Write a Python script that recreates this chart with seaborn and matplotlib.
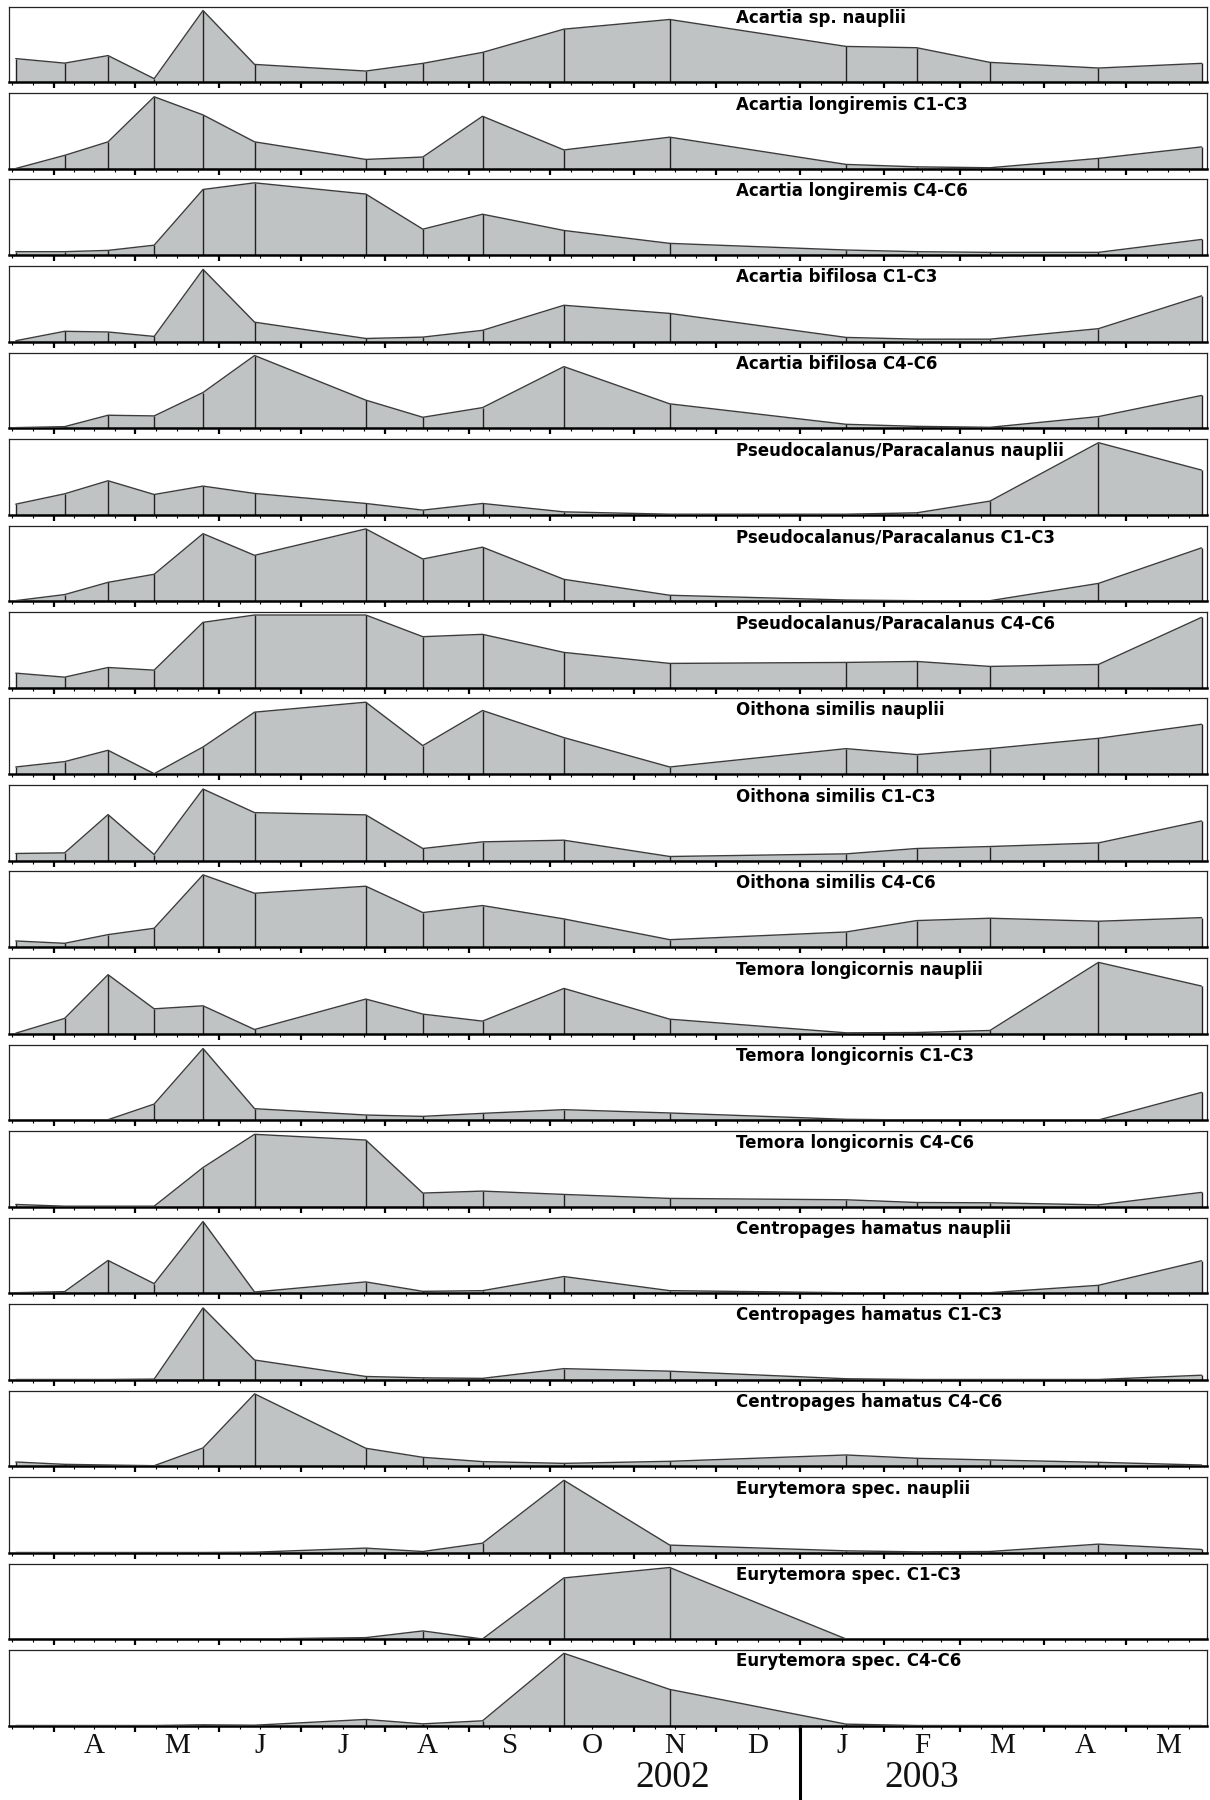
import numpy as np
import pandas as pd
import seaborn as sns
import matplotlib.pyplot as plt
import matplotlib.dates as mdates
from matplotlib.lines import Line2D
from matplotlib.transforms import blended_transform_factory

# sampling dates (Mar 2002 - May 2003)
sample_dates = pd.to_datetime([
    "2002-03-18", "2002-04-05", "2002-04-21", "2002-05-08", "2002-05-26",
    "2002-06-14", "2002-07-25", "2002-08-15", "2002-09-06", "2002-10-06",
    "2002-11-14", "2003-01-18", "2003-02-13", "2003-03-12", "2003-04-21",
    "2003-05-29",
])

# relative abundance per panel (fraction of panel height)
acartia_sp_nauplii = [0.31, 0.25, 0.35, 0.044, 0.947, 0.233, 0.145, 0.247, 0.392, 0.70, 0.828, 0.471, 0.454, 0.26, 0.185, 0.247]
acartia_long_c1c3 = [0.0, 0.174, 0.353, 0.95, 0.71, 0.353, 0.12, 0.152, 0.692, 0.246, 0.415, 0.054, 0.022, 0.01, 0.134, 0.286]
acartia_long_c4c6 = [0.044, 0.044, 0.061, 0.13, 0.868, 0.956, 0.807, 0.342, 0.54, 0.325, 0.154, 0.066, 0.044, 0.035, 0.035, 0.206]
acartia_bif_c1c3 = [0.01, 0.135, 0.126, 0.067, 0.955, 0.256, 0.04, 0.058, 0.148, 0.48, 0.372, 0.054, 0.031, 0.031, 0.17, 0.605]
acartia_bif_c4c6 = [0.005, 0.018, 0.169, 0.16, 0.47, 0.96, 0.369, 0.142, 0.27, 0.813, 0.32, 0.049, 0.022, 0.009, 0.151, 0.431]
pseudo_nauplii = [0.137, 0.274, 0.447, 0.265, 0.376, 0.279, 0.146, 0.058, 0.146, 0.035, 0.004, 0.004, 0.022, 0.177, 0.951, 0.588]
pseudo_c1c3 = [0.005, 0.085, 0.247, 0.354, 0.892, 0.605, 0.955, 0.556, 0.713, 0.287, 0.076, 0.013, 0.004, 0.004, 0.233, 0.704]
pseudo_c4c6 = [0.19, 0.137, 0.265, 0.23, 0.863, 0.96, 0.96, 0.673, 0.704, 0.465, 0.319, 0.332, 0.345, 0.279, 0.305, 0.929]
oithona_nauplii = [0.093, 0.164, 0.314, 0.004, 0.358, 0.819, 0.951, 0.376, 0.841, 0.482, 0.093, 0.336, 0.257, 0.336, 0.473, 0.659]
oithona_c1c3 = [0.093, 0.101, 0.608, 0.079, 0.947, 0.634, 0.604, 0.159, 0.247, 0.269, 0.053, 0.088, 0.159, 0.185, 0.233, 0.524]
oithona_c4c6 = [0.08, 0.049, 0.164, 0.248, 0.956, 0.712, 0.805, 0.456, 0.549, 0.372, 0.097, 0.199, 0.35, 0.381, 0.341, 0.389]
temora_nauplii = [0.004, 0.2, 0.779, 0.327, 0.367, 0.053, 0.456, 0.257, 0.164, 0.597, 0.19, 0.009, 0.013, 0.04, 0.942, 0.628]
temora_c1c3 = [0.0, 0.0, 0.004, 0.211, 0.947, 0.15, 0.066, 0.048, 0.088, 0.137, 0.093, 0.009, 0.0, 0.0, 0.0, 0.366]
temora_c4c6 = [0.027, 0.004, 0.004, 0.004, 0.516, 0.956, 0.88, 0.178, 0.204, 0.16, 0.107, 0.089, 0.053, 0.049, 0.022, 0.187]
centro_nauplii = [0.004, 0.018, 0.431, 0.124, 0.947, 0.013, 0.147, 0.022, 0.031, 0.218, 0.031, 0.004, 0.0, 0.004, 0.102, 0.427]
centro_c1c3 = [0.0, 0.0, 0.0, 0.005, 0.948, 0.258, 0.04, 0.022, 0.015, 0.144, 0.11, 0.01, 0.0, 0.0, 0.0, 0.057]
centro_c4c6 = [0.053, 0.022, 0.013, 0.004, 0.239, 0.956, 0.235, 0.115, 0.058, 0.035, 0.062, 0.146, 0.102, 0.08, 0.049, 0.013]
eury_nauplii = [0.0, 0.0, 0.0, 0.0, 0.0, 0.004, 0.058, 0.013, 0.124, 0.956, 0.098, 0.022, 0.009, 0.013, 0.111, 0.04]
eury_c1c3 = [0.0, 0.0, 0.0, 0.0, 0.0, 0.0, 0.018, 0.107, 0.0, 0.809, 0.947, 0.0, 0.0, 0.0, 0.0, 0.0]
eury_c4c6 = [0.0, 0.0, 0.0, 0.0, 0.009, 0.004, 0.08, 0.022, 0.062, 0.956, 0.478, 0.018, 0.0, 0.0, 0.0, 0.0]

panel_titles = [
    "Acartia sp. nauplii", "Acartia longiremis C1-C3", "Acartia longiremis C4-C6",
    "Acartia bifilosa C1-C3", "Acartia bifilosa C4-C6", "Pseudocalanus/Paracalanus nauplii",
    "Pseudocalanus/Paracalanus C1-C3", "Pseudocalanus/Paracalanus C4-C6", "Oithona similis nauplii",
    "Oithona similis C1-C3", "Oithona similis C4-C6", "Temora longicornis nauplii",
    "Temora longicornis C1-C3", "Temora longicornis C4-C6", "Centropages hamatus nauplii",
    "Centropages hamatus C1-C3", "Centropages hamatus C4-C6", "Eurytemora spec. nauplii",
    "Eurytemora spec. C1-C3", "Eurytemora spec. C4-C6",
]
panel_values = [
    acartia_sp_nauplii, acartia_long_c1c3, acartia_long_c4c6, acartia_bif_c1c3, acartia_bif_c4c6,
    pseudo_nauplii, pseudo_c1c3, pseudo_c4c6, oithona_nauplii, oithona_c1c3, oithona_c4c6,
    temora_nauplii, temora_c1c3, temora_c4c6, centro_nauplii, centro_c1c3, centro_c4c6,
    eury_nauplii, eury_c1c3, eury_c4c6,
]

month_letters = ["A", "M", "J", "J", "A", "S", "O", "N", "D", "J", "F", "M", "A", "M"]
year_labels = ["2002", "2003"]
year_centers = pd.to_datetime(["2002-11-15", "2003-02-15"])

sns.set_style("white")
plt.rcParams['font.family'] = ['DejaVu Sans']

W, H = 1210, 1800
fig = plt.figure(figsize=(W / 100, H / 100), dpi=100)
x0, x1 = 9, 1207
top0, pitch, ph = 6.5, 86.5, 75.5

xmin = pd.Timestamp("2002-03-15 12:00")
xmax = pd.Timestamp("2003-05-31")

month_starts = pd.date_range("2002-03-01", "2003-06-01", freq="MS")
major = [m for m in month_starts if xmin <= m <= xmax]
minor = []
for a, b in zip(month_starts[:-1], month_starts[1:]):
    for k in (1, 2, 3):
        t = a + (b - a) * k / 4
        if xmin <= t <= xmax:
            minor.append(t)

fill_col = "#c0c3c3"
axes = []
for i, (title, vals) in enumerate(zip(panel_titles, panel_values)):
    top = top0 + pitch * i
    ax = fig.add_axes([x0 / W, 1 - (top + ph) / H, (x1 - x0) / W, ph / H])
    df = pd.DataFrame({"date": sample_dates, "value": vals})
    ax.fill_between(df["date"], 0, df["value"], color=fill_col, lw=0, zorder=1)
    sns.lineplot(data=df, x="date", y="value", ax=ax, color="#3c3c3c", lw=1.0,
                 legend=False, zorder=3)
    ax.vlines(df["date"], 0, df["value"], color="#222222", lw=1.0, zorder=2)
    ax.set_xlim(xmin, xmax)
    ax.set_ylim(0, 1)
    ax.set_xlabel("")
    ax.set_ylabel("")
    ax.set_yticks([])
    ax.set_xticks(major)
    ax.set_xticks(minor, minor=True)
    ax.tick_params(axis="x", which="major", direction="out", length=4, width=1.6,
                   color="black", labelbottom=False, bottom=True)
    ax.tick_params(axis="x", which="minor", direction="out", length=2.2, width=0.8,
                   color="black", bottom=True)
    for s in ["top", "left", "right"]:
        ax.spines[s].set_color("#222222")
        ax.spines[s].set_linewidth(0.9)
    ax.spines["bottom"].set_color("black")
    ax.spines["bottom"].set_linewidth(1.8)
    ax.text(0.607, 1 - 2.5 / ph, title, transform=ax.transAxes, ha="left", va="top",
            fontsize=12, fontweight="bold", color="black")
    axes.append(ax)

# month and year labels under the last panel
last = axes[-1]
trans = blended_transform_factory(last.transData, fig.transFigure)
month_mid = [a + (b - a) / 2 for a, b in zip(month_starts[1:-1], month_starts[2:])]
for d, lab in zip(month_mid, month_letters):
    fig.text(mdates.date2num(d), 1 - 1746 / H, lab, transform=trans, ha="center", va="center",
             fontsize=21, family="Liberation Serif", color="#111111")
for d, lab in zip(year_centers, year_labels):
    fig.text(mdates.date2num(d), 1 - 1778 / H, lab, transform=trans, ha="center", va="center",
             fontsize=27, family="Liberation Serif", color="#111111")
jan = mdates.date2num(pd.Timestamp("2003-01-01"))
fig.lines.append(Line2D([jan, jan], [1 - (top0 + 19 * pitch + ph) / H, 0], transform=trans,
                        color="black", lw=2.2))

fig.savefig("out.png", dpi=100)
